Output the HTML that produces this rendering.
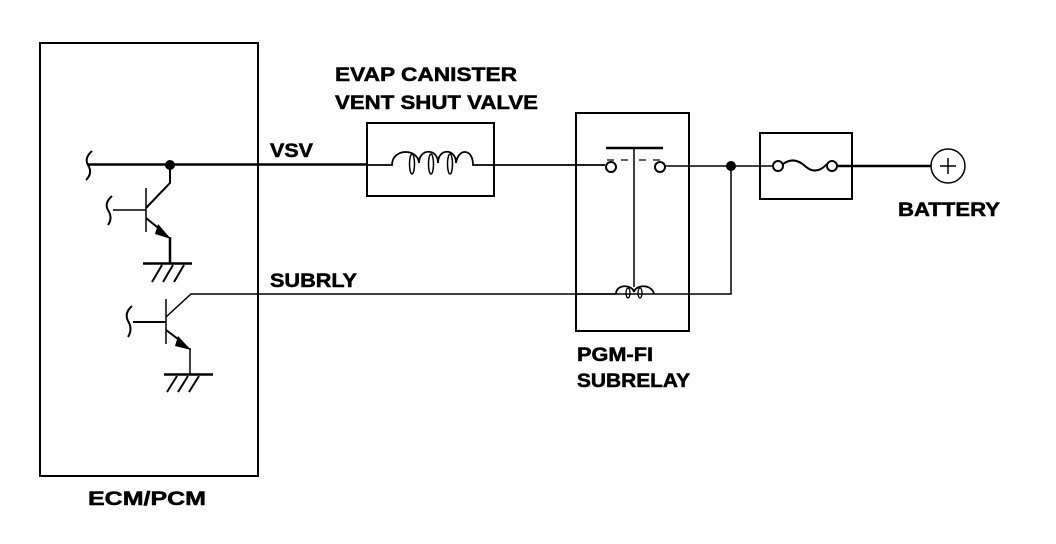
<!DOCTYPE html>
<html><head><style>
html,body{margin:0;padding:0;background:#fff;}
svg{display:block}
text{font-family:"Liberation Sans",Arial,sans-serif;font-weight:bold;font-size:19px;fill:#000;stroke:#000;stroke-width:0.5}
</style></head><body>
<svg width="1056" height="544" viewBox="0 0 1056 544" xmlns="http://www.w3.org/2000/svg">
<g fill="none" stroke="#000">
<rect x="40" y="43" width="218" height="433" stroke-width="2"/>
<line x1="88" y1="164.5" x2="367" y2="164.5" stroke-width="2.5"/>
<path d="M92 151 Q84 158 88 165 Q93 173 86 180" stroke-width="2"/>
<polyline points="170,165 170,183 146,208" stroke-width="2"/>
<line x1="146" y1="188" x2="146" y2="232" stroke-width="1.5"/>
<line x1="113" y1="210" x2="146" y2="210" stroke-width="1.5"/>
<path d="M112 196 Q104 203 108 210 Q113 218 108 225" stroke-width="2"/>
<polyline points="146,218 162,231" stroke-width="2"/>
<polyline points="170,237 170,263" stroke-width="2.5"/>
<line x1="143" y1="263.5" x2="192" y2="263.5" stroke-width="2.5"/>
<path d="M152 282 L162 265 M163 282 L173 265 M174 282 L184 265" stroke-width="2"/>
<polyline points="166,317 191,294 731,294 731,166" stroke-width="1.5"/>
<line x1="166" y1="299" x2="166" y2="344" stroke-width="1.5"/>
<line x1="133" y1="322" x2="166" y2="322" stroke-width="2"/>
<path d="M132 306 Q124 313 128 321 Q133 329 128 337" stroke-width="2"/>
<polyline points="166,330 182,342" stroke-width="2"/>
<polyline points="190,348 190,374" stroke-width="1.5"/>
<line x1="164" y1="374.5" x2="213" y2="374.5" stroke-width="2.5"/>
<path d="M167 392 L177 376 M178 392 L188 376 M189 392 L199 376" stroke-width="2"/>
<rect x="367" y="123" width="127" height="73" stroke-width="2"/>
<path d="M367 165 L392 165 C392 148 418 148 419 163 C419 148 438 148 438 163 C438 148 456 148 456 163 C458 148 473 148 473 165 L605 165" stroke-width="1.8"/>
<ellipse cx="412" cy="164" rx="2.5" ry="10" stroke-width="1.5"/>
<ellipse cx="431" cy="164" rx="2.5" ry="10" stroke-width="1.5"/>
<ellipse cx="450" cy="164" rx="2.5" ry="10" stroke-width="1.5"/>
<rect x="576" y="113" width="113" height="218" stroke-width="2"/>
<line x1="606" y1="148" x2="663" y2="148" stroke-width="2.5"/>
<line x1="634" y1="148" x2="634" y2="287" stroke-width="1.5"/>
<circle cx="611" cy="167" r="5" stroke-width="2"/>
<circle cx="660" cy="167" r="5" stroke-width="2"/>
<path d="M607 160 L614 160 M621 160 L628 160 M639 160 L646 160 M653 160 L660 160" stroke-width="1.2"/>
<line x1="665" y1="166" x2="760" y2="166" stroke-width="1.5"/>
<path d="M616 294 C616 284 632 284 634 292 C636 284 652 284 654 294" stroke-width="1.8"/>
<ellipse cx="628" cy="293" rx="2" ry="5" stroke-width="1.3"/>
<ellipse cx="640" cy="293" rx="2" ry="5" stroke-width="1.3"/>
<line x1="576" y1="294" x2="616" y2="294" stroke-width="1.5"/>
<rect x="760" y="133" width="92" height="66" stroke-width="2"/>
<line x1="760" y1="166" x2="773" y2="166" stroke-width="1.5"/>
<circle cx="778" cy="166" r="5" stroke-width="2"/>
<circle cx="832" cy="166" r="5" stroke-width="2"/>
<path d="M783 164 Q794 156 805 166 Q816 176 827 164" stroke-width="2"/>
<line x1="837" y1="166" x2="931" y2="166" stroke-width="2.5"/>
<circle cx="948" cy="166" r="17" stroke-width="1.5"/>
<line x1="940" y1="166" x2="956" y2="166" stroke-width="1.5"/>
<line x1="948" y1="158" x2="948" y2="174" stroke-width="1.5"/>
</g>
<polygon points="158,224 171,239 155,234" fill="#000"/>
<polygon points="178,336 191,350 175,346" fill="#000"/>
<circle cx="170" cy="165" r="5" fill="#000"/>
<circle cx="731" cy="166" r="5" fill="#000"/>
<text x="335" y="81" textLength="182" lengthAdjust="spacingAndGlyphs">EVAP CANISTER</text>
<text x="335" y="109" textLength="203" lengthAdjust="spacingAndGlyphs">VENT SHUT VALVE</text>
<text x="270" y="157" textLength="43" lengthAdjust="spacingAndGlyphs">VSV</text>
<text x="270" y="287" textLength="87" lengthAdjust="spacingAndGlyphs">SUBRLY</text>
<text x="577" y="361" textLength="76" lengthAdjust="spacingAndGlyphs">PGM-FI</text>
<text x="577" y="387" textLength="113" lengthAdjust="spacingAndGlyphs">SUBRELAY</text>
<text x="898" y="216" textLength="102" lengthAdjust="spacingAndGlyphs">BATTERY</text>
<text x="88" y="505" textLength="118" lengthAdjust="spacingAndGlyphs">ECM/PCM</text>
</svg>
</body></html>
